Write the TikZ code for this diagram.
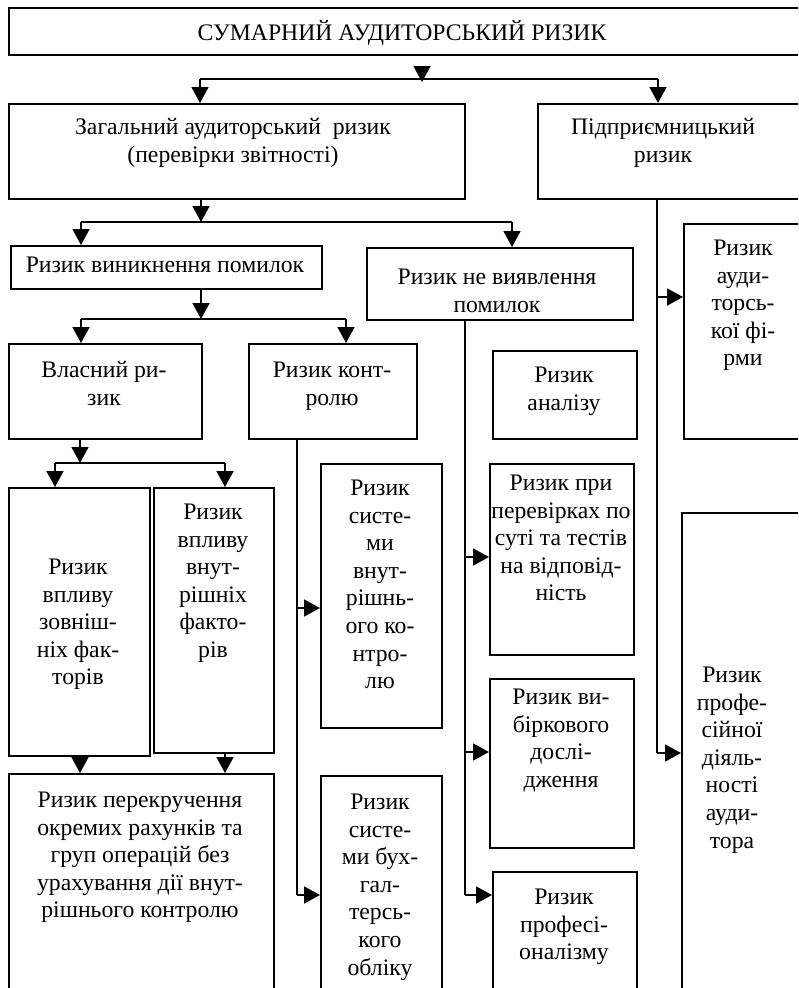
\documentclass[tikz,border=0pt]{standalone}
\usepackage{fontspec}
\setmainfont{Liberation Serif}
\usetikzlibrary{arrows.meta}
\tikzset{
  box/.style={draw, line width=1.7pt, anchor=north west, inner sep=0pt},
  txt/.style={align=center, inner sep=0pt, anchor=north, font=\fontsize{23.7}{27.6}\selectfont},
  conn/.style={line width=1.7pt},
  arr/.style={conn, -{Triangle[width=17pt,length=16pt]}}
}
\begin{document}
\begin{tikzpicture}[x=1pt,y=-1pt]
\clip (0,0) rectangle (798,988);
\fill[white] (0,0) rectangle (798,988);
% boxes
\node[box, minimum width=810, minimum height=47] (top) at (8,7) {};
\node[box, minimum width=456, minimum height=95] (zag) at (8,103) {};
\node[box, minimum width=273, minimum height=95] (pid) at (537,103) {};
\node[box, minimum width=311, minimum height=43] (vyn) at (10,245) {};
\node[box, minimum width=266, minimum height=72] (nev) at (366,247) {};
\node[box, minimum width=127, minimum height=215] (fir) at (683,223) {};
\node[box, minimum width=193, minimum height=95] (vla) at (8,343) {};
\node[box, minimum width=168, minimum height=95] (kon) at (248,343) {};
\node[box, minimum width=144, minimum height=88] (ana) at (492,350) {};
\node[box, minimum width=141, minimum height=268] (ext) at (8,487) {};
\node[box, minimum width=120, minimum height=265] (int) at (153,487) {};
\node[box, minimum width=121, minimum height=264] (svk) at (320,463) {};
\node[box, minimum width=144, minimum height=191] (per) at (489,463) {};
\node[box, minimum width=129, minimum height=500] (prof) at (681,512) {};
\node[box, minimum width=144, minimum height=169] (vyb) at (489,678) {};
\node[box, minimum width=265, minimum height=230] (pkr) at (8,773) {};
\node[box, minimum width=121, minimum height=230] (sbo) at (320,775) {};
\node[box, minimum width=144, minimum height=140] (pfm) at (492,871) {};
% texts
\node[txt] (top-t) at (402,20) {\strut СУМАРНИЙ АУДИТОРСЬКИЙ РИЗИК};
\node[txt] (zag-t) at (233,115) {\strut Загальний аудиторський\ \ ризик\\(перевірки звітності)};
\node[txt] (pid-t) at (663,115) {\strut Підприємницький\\ризик};
\node[txt] (vyn-t) at (165,253) {\strut Ризик виникнення помилок};
\node[txt] (nev-t) at (497,265) {\strut Ризик не виявлення\\помилок};
\node[txt] (fir-t) at (743,236) {\strut Ризик\\ауди-\\торсь-\\кої фі-\\рми};
\node[txt] (vla-t) at (104,358) {\strut Власний ри-\\зик};
\node[txt] (kon-t) at (332,358) {\strut Ризик конт-\\ролю};
\node[txt] (ana-t) at (564,363) {\strut Ризик\\аналізу};
\node[txt] (ext-t) at (78,555) {\strut Ризик\\впливу\\зовніш-\\ніх фак-\\торів};
\node[txt] (int-t) at (213,500) {\strut Ризик\\впливу\\внут-\\рішніх\\факто-\\рів};
\node[txt] (svk-t) at (380,476) {\strut Ризик\\систе-\\ми\\внут-\\рішнь-\\ого ко-\\нтро-\\лю};
\node[txt] (per-t) at (561,471) {\strut Ризик при\\перевірках по\\суті та тестів\\на відповід-\\ність};
\node[txt] (vyb-t) at (561,685) {\strut Ризик ви-\\біркового\\дослі-\\дження};
\node[txt] (pkr-t) at (140,788) {\strut Ризик перекручення\\окремих рахунків та\\груп операцій без\\урахування дії внут-\\рішнього контролю};
\node[txt] (sbo-t) at (380,790) {\strut Ризик\\систе-\\ми бух-\\гал-\\терсь-\\кого\\обліку};
\node[txt] (pfm-t) at (564,885) {\strut Ризик\\професі-\\оналізму};
\node[txt] (prof-t) at (732,663) {\strut Ризик\\профе-\\сійної\\діяль-\\ності\\ауди-\\тора};
% top split
\coordinate (a0) at (422,66);
\coordinate (h0M) at (422,82);
\coordinate (h0L) at (200,79);
\coordinate (h0R) at (658,79);
\draw[arr] (a0) -- (h0M);
\draw[conn] (h0L) -- (h0R);
\draw[arr] (h0L) -- (h0L |- zag.north);
\draw[arr] (h0R) -- (h0R |- pid.north);
% zag split
\coordinate (h1M) at (201,222);
\coordinate (h1L) at (81,222);
\coordinate (h1R) at (512,222);
\draw[arr] (h1M |- zag.south) -- (h1M);
\draw[conn] (h1L) -- (h1R);
\draw[arr] (h1L) -- (h1L |- vyn.north);
\draw[arr] (h1R) -- (h1R |- nev.north);
% vyn split
\coordinate (h2M) at (201,319);
\coordinate (h2L) at (81,319);
\coordinate (h2R) at (346,319);
\draw[arr] (h2M |- vyn.south) -- (h2M);
\draw[conn] (h2L) -- (h2R);
\draw[arr] (h2L) -- (h2L |- vla.north);
\draw[arr] (h2R) -- (h2R |- kon.north);
% vla split
\coordinate (h3M) at (80,463);
\coordinate (h3L) at (55,463);
\coordinate (h3R) at (225,463);
\draw[arr] (h3M |- vla.south) -- (h3M);
\draw[conn] (h3L) -- (h3R);
\draw[arr] (h3L) -- (h3L |- ext.north);
\draw[arr] (h3R) -- (h3R |- int.north);
% into pkr
\draw[arr] (h3M |- ext.south) -- (h3M |- pkr.north);
\draw[arr] (h3R |- int.south) -- (h3R |- pkr.north);
% kon trunk
\coordinate (k1) at (297,608);
\coordinate (k2) at (297,895);
\draw[conn] (k1 |- kon.south) -- (k2);
\draw[arr] (k1) -- (k1 -| svk.west);
\draw[arr] (k2) -- (k2 -| sbo.west);
% nev trunk
\coordinate (n1) at (465,557);
\coordinate (n2) at (465,752);
\coordinate (n3) at (465,895);
\draw[conn] (n1 |- nev.south) -- (n3);
\draw[arr] (n1) -- (n1 -| per.west);
\draw[arr] (n2) -- (n2 -| vyb.west);
\draw[arr] (n3) -- (n3 -| pfm.west);
% pid trunk
\coordinate (p1) at (657,297);
\coordinate (p2) at (657,753);
\draw[conn] (p1 |- pid.south) -- (p2);
\draw[arr] (p1) -- (p1 -| fir.west);
\draw[arr] (p2) -- (p2 -| prof.west);
\end{tikzpicture}
\end{document}
